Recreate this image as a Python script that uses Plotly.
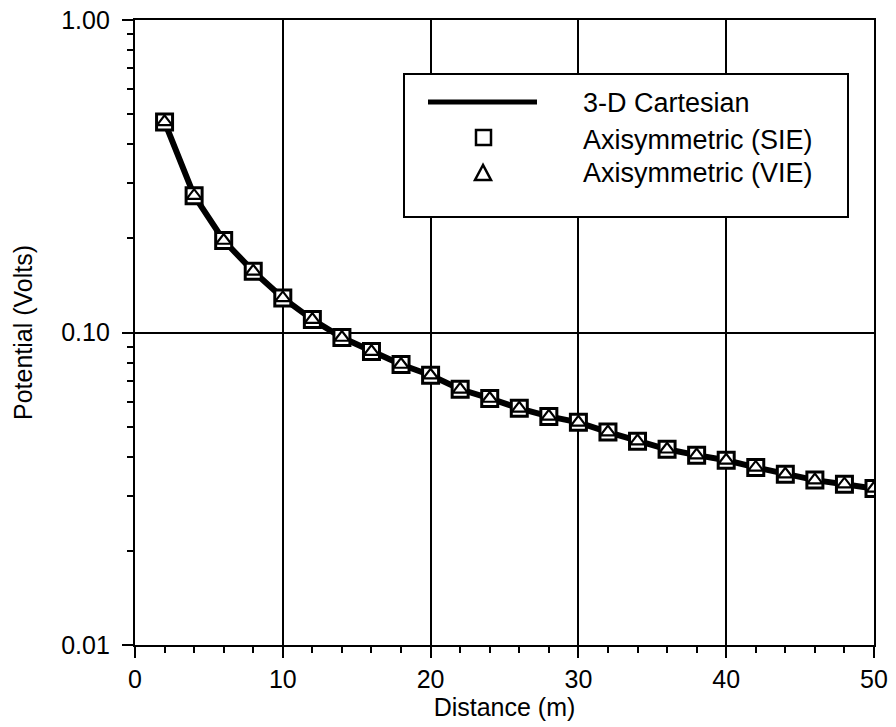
import plotly.graph_objects as go

distance = [2, 4, 6, 8, 10, 12, 14, 16, 18, 20, 22, 24, 26, 28, 30,
            32, 34, 36, 38, 40, 42, 44, 46, 48, 50]
cartesian = [0.472, 0.274, 0.197, 0.157, 0.129, 0.110, 0.0964, 0.0869, 0.079, 0.073,
             0.0658, 0.0615, 0.0572, 0.0539, 0.0516, 0.048, 0.0449, 0.0423, 0.0405,
             0.039, 0.037, 0.0352, 0.0337, 0.0327, 0.0317]
sie = list(cartesian)
vie = list(cartesian)

series_names = ["3-D Cartesian", "Axisymmetric (SIE)", "Axisymmetric (VIE)"]
y_tickvals = [0.01, 0.1, 1.0]
y_ticktext = ["0.01", "0.10", "1.00"]
x_tickvals = [0, 10, 20, 30, 40, 50]

FONT = "Liberation Sans, Arial, Helvetica, sans-serif"

fig = go.Figure()
fig.add_trace(go.Scatter(x=distance, y=cartesian, mode="lines", name=series_names[0],
                         line=dict(color="black", width=6)))
fig.add_trace(go.Scatter(x=distance, y=sie, mode="markers", name=series_names[1],
                         marker=dict(symbol="square", size=16, color="white",
                                     line=dict(color="black", width=3))))
fig.add_trace(go.Scatter(x=distance, y=vie, mode="markers", name=series_names[2],
                         marker=dict(symbol="triangle-up", size=13, color="white",
                                     line=dict(color="black", width=2.2))))

minor_y = [m * 10 ** e for e in (-2, -1) for m in range(2, 10)]

# ---- manual legend (box, key glyphs, labels) in plot-area (paper) coordinates ----
L, R, T, B = 135, 874, 20, 645
def px(x):
    return (x - L) / (R - L)
def py(y):
    return (B - y) / (B - T)

shapes = [
    dict(type="rect", xref="paper", yref="paper", x0=px(404), x1=px(848),
         y0=py(217), y1=py(74), line=dict(color="black", width=2), fillcolor="white",
         layer="above"),
    dict(type="line", xref="paper", yref="paper", x0=px(428), x1=px(537),
         y0=py(102), y1=py(102), line=dict(color="black", width=5), layer="above"),
    dict(type="rect", xref="paper", yref="paper", x0=px(476), x1=px(491),
         y0=py(145), y1=py(130), line=dict(color="black", width=2.5), fillcolor="white",
         layer="above"),
    dict(type="path", xref="paper", yref="paper",
         path=f"M {px(483)} {py(165)} L {px(475)} {py(180)} L {px(491)} {py(180)} Z",
         line=dict(color="black", width=2.5), fillcolor="white", layer="above"),
]
label_y = [103, 140, 173]
annotations = [
    dict(xref="paper", yref="paper", x=px(581), y=py(yy), xanchor="left", yanchor="middle",
         text=name, showarrow=False, font=dict(size=27, family=FONT, color="black"))
    for name, yy in zip(series_names, label_y)
]

fig.update_layout(
    width=896, height=727,
    margin=dict(l=L, r=896 - R, t=T, b=727 - B, autoexpand=False),
    paper_bgcolor="white", plot_bgcolor="white",
    font=dict(family=FONT, color="black", size=25),
    showlegend=False,
    shapes=shapes, annotations=annotations,
    xaxis=dict(range=[0, 50], tickvals=x_tickvals, ticks="outside", ticklen=11,
               tickwidth=2, tickcolor="black", showline=True, linecolor="black",
               linewidth=2.2, mirror=True, showgrid=True, gridcolor="black",
               gridwidth=1.6, zeroline=False, tickfont=dict(size=25), automargin=False,
               title=dict(text="Distance (m)", font=dict(size=25), standoff=4),
               minor=dict(dtick=2, ticks="outside", ticklen=6, tickwidth=2,
                          tickcolor="black", showgrid=False)),
    yaxis=dict(type="log", range=[-2, 0], tickvals=y_tickvals, ticktext=y_ticktext,
               ticks="outside", ticklen=11, tickwidth=2, tickcolor="black",
               showline=True, linecolor="black", linewidth=2.2, mirror=True,
               showgrid=True, gridcolor="black", gridwidth=1.6, zeroline=False,
               tickfont=dict(size=25), automargin=False, ticklabelstandoff=7,
               title=dict(text="Potential (Volts)", font=dict(size=25), standoff=21),
               minor=dict(tickvals=minor_y, ticks="outside", ticklen=6, tickwidth=2,
                          tickcolor="black", showgrid=False)),
)

fig.write_html("out.html")
